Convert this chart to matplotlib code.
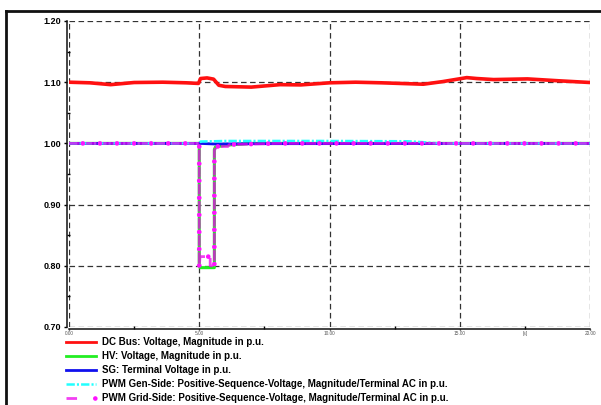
import matplotlib
matplotlib.use("Agg")
import matplotlib.pyplot as plt
from matplotlib.lines import Line2D
from matplotlib.legend_handler import HandlerTuple
from matplotlib.ticker import MultipleLocator, FixedLocator

plt.rcParams['lines.scale_dashes'] = False
plt.rcParams['font.family'] = ['Liberation Sans', 'DejaVu Sans']

# ---- data ----
t_dc = [0, 0.8, 1.6, 2.5, 3.6, 4.5, 4.97, 5.05, 5.3, 5.55, 5.75, 6.0, 7.0, 8.1, 8.9,
        10, 11, 12, 12.7, 13.6, 14.35, 15.27, 15.65, 16.3, 17.6, 18.8, 20]
v_dc = [1.100, 1.099, 1.096, 1.0995, 1.100, 1.099, 1.098, 1.106, 1.107, 1.105, 1.095,
        1.093, 1.092, 1.096, 1.0956, 1.099, 1.100, 1.099, 1.098, 1.0967, 1.101, 1.1075,
        1.106, 1.1043, 1.1054, 1.1023, 1.0995]

t_hv = [0, 5.0, 5.0, 5.03, 5.58, 5.58, 5.62, 6.0, 7.0, 20]
v_hv = [1.0, 1.0, 0.80, 0.797, 0.797, 0.99, 0.994, 0.997, 1.0, 1.0]

t_sg = [0, 5.0, 5.6, 7.0, 20]
v_sg = [1.0, 1.0, 0.999, 0.9995, 1.0]

t_gen = [0, 5.0, 5.05, 6.0, 10.0, 13.0, 13.6, 14.2, 20]
v_gen = [1.0, 1.0, 1.003, 1.004, 1.004, 1.0035, 1.002, 1.0, 1.0]

t_grid = [0, 5.0, 5.0, 5.03, 5.42, 5.42, 5.58, 5.58, 5.65, 6.1, 6.15, 8.0, 20]
v_grid = [1.0, 1.0, 0.80, 0.815, 0.815, 0.80, 0.80, 0.988, 0.995, 0.995, 0.998, 1.0, 1.0]

labels = ["DC Bus: Voltage, Magnitude in p.u.",
          "HV: Voltage, Magnitude in p.u.",
          "SG: Terminal Voltage in p.u.",
          "PWM Gen-Side: Positive-Sequence-Voltage, Magnitude/Terminal AC in p.u.",
          "PWM Grid-Side: Positive-Sequence-Voltage, Magnitude/Terminal AC in p.u."]
x_ticks = [0, 5, 10, 15, 20]
x_ticklabels = ["0.00", "5.00", "10.00", "15.00", "20.00"]
y_ticks = [0.70, 0.80, 0.90, 1.00, 1.10, 1.20]
y_ticklabels = ["0.70", "0.80", "0.90", "1.00", "1.10", "1.20"]

# ---- figure ----
fig = plt.figure(figsize=(6.01, 4.05), dpi=100)
W, H = 601, 405
ax = fig.add_axes([69 / W, 1 - 327 / H, 521 / W, 306 / H])

# outer frame (partial window border)
fig.add_artist(Line2D([6 / W, 6 / W], [0, 1 - 10.5 / H], transform=fig.transFigure,
                      color='#111111', lw=2.0, solid_capstyle='projecting'))
fig.add_artist(Line2D([6 / W, 1], [1 - 10.5 / H, 1 - 10.5 / H], transform=fig.transFigure,
                      color='#111111', lw=2.0, solid_capstyle='projecting'))

l_dc, = ax.plot(t_dc, v_dc, color='#ff1010', lw=2.6, solid_joinstyle='round', zorder=3)
l_hv, = ax.plot(t_hv, v_hv, color='#22ee22', lw=2.2, zorder=4)
l_sg, = ax.plot(t_sg, v_sg, color='#1010ee', lw=2.0, zorder=5)
l_gen, = ax.plot(t_gen, v_gen, color='#22ffff', lw=1.8, zorder=6,
                 linestyle=(0, (6, 1.5, 1.5, 1.5)))
l_grid, = ax.plot(t_grid, v_grid, color='#ee00ee', lw=2.0, zorder=7, alpha=0.75,
                  linestyle=(0, (7.6, 4.7)))
l_grid_d, = ax.plot(t_grid, v_grid, color='#ff11ff', lw=3.4, zorder=8,
                    linestyle=(-9.95, (0.001, 12.3)), dash_capstyle='round')

ax.set_xlim(0, 20)
ax.set_ylim(0.70, 1.20)

ax.xaxis.set_major_locator(FixedLocator(x_ticks))
ax.set_xticklabels(x_ticklabels)
ax.xaxis.set_minor_locator(MultipleLocator(2.5))
ax.yaxis.set_major_locator(FixedLocator(y_ticks))
ax.set_yticklabels(y_ticklabels)
ax.yaxis.set_minor_locator(MultipleLocator(0.05))

ax.grid(True, which='major', color='#333333', lw=0.9, linestyle=(0, (4, 2.5)))
for gl in ax.get_xgridlines() + ax.get_ygridlines():
    gl.set_clip_on(False)
ax.set_axisbelow(True)
for s in ['top', 'right']:
    ax.spines[s].set_visible(False)
for s in ['left', 'bottom']:
    ax.spines[s].set_position(('outward', 1.2))
    ax.spines[s].set_linewidth(1.1)
    ax.spines[s].set_color('#111111')

ax.tick_params(axis='y', which='major', direction='out', length=2, width=1,
               labelsize=6.5, pad=2.5)
ax.tick_params(axis='y', which='minor', direction='in', length=2.5, width=1)
ax.tick_params(axis='x', which='major', direction='out', length=1.0, width=1,
               labelsize=3.4, pad=1.0, labelcolor='#555555')
ax.tick_params(axis='x', which='minor', direction='in', length=2.5, width=1)
for lab in ax.get_yticklabels():
    lab.set_fontweight('bold')

ax.text(17.5, -0.014, "[s]", transform=ax.get_xaxis_transform(), ha='center', va='top',
        fontsize=3.4, color='#555555')

leg = fig.legend([l_dc, l_hv, l_sg, l_gen, (l_grid, l_grid_d)], labels,
                 loc='upper left', bbox_to_anchor=(66 / W, 1 - 337 / H),
                 frameon=False, handlelength=3.1, handletextpad=0.62,
                 labelspacing=0.42, borderpad=0, borderaxespad=0,
                 prop={'size': 7.0, 'weight': 'bold'},
                 handler_map={tuple: HandlerTuple(ndivide=None, pad=0)})
for h in leg.legend_handles:
    if isinstance(h, Line2D):
        h.set_linewidth(min(h.get_linewidth(), 2.0))

fig.savefig("out.png", dpi=100)
